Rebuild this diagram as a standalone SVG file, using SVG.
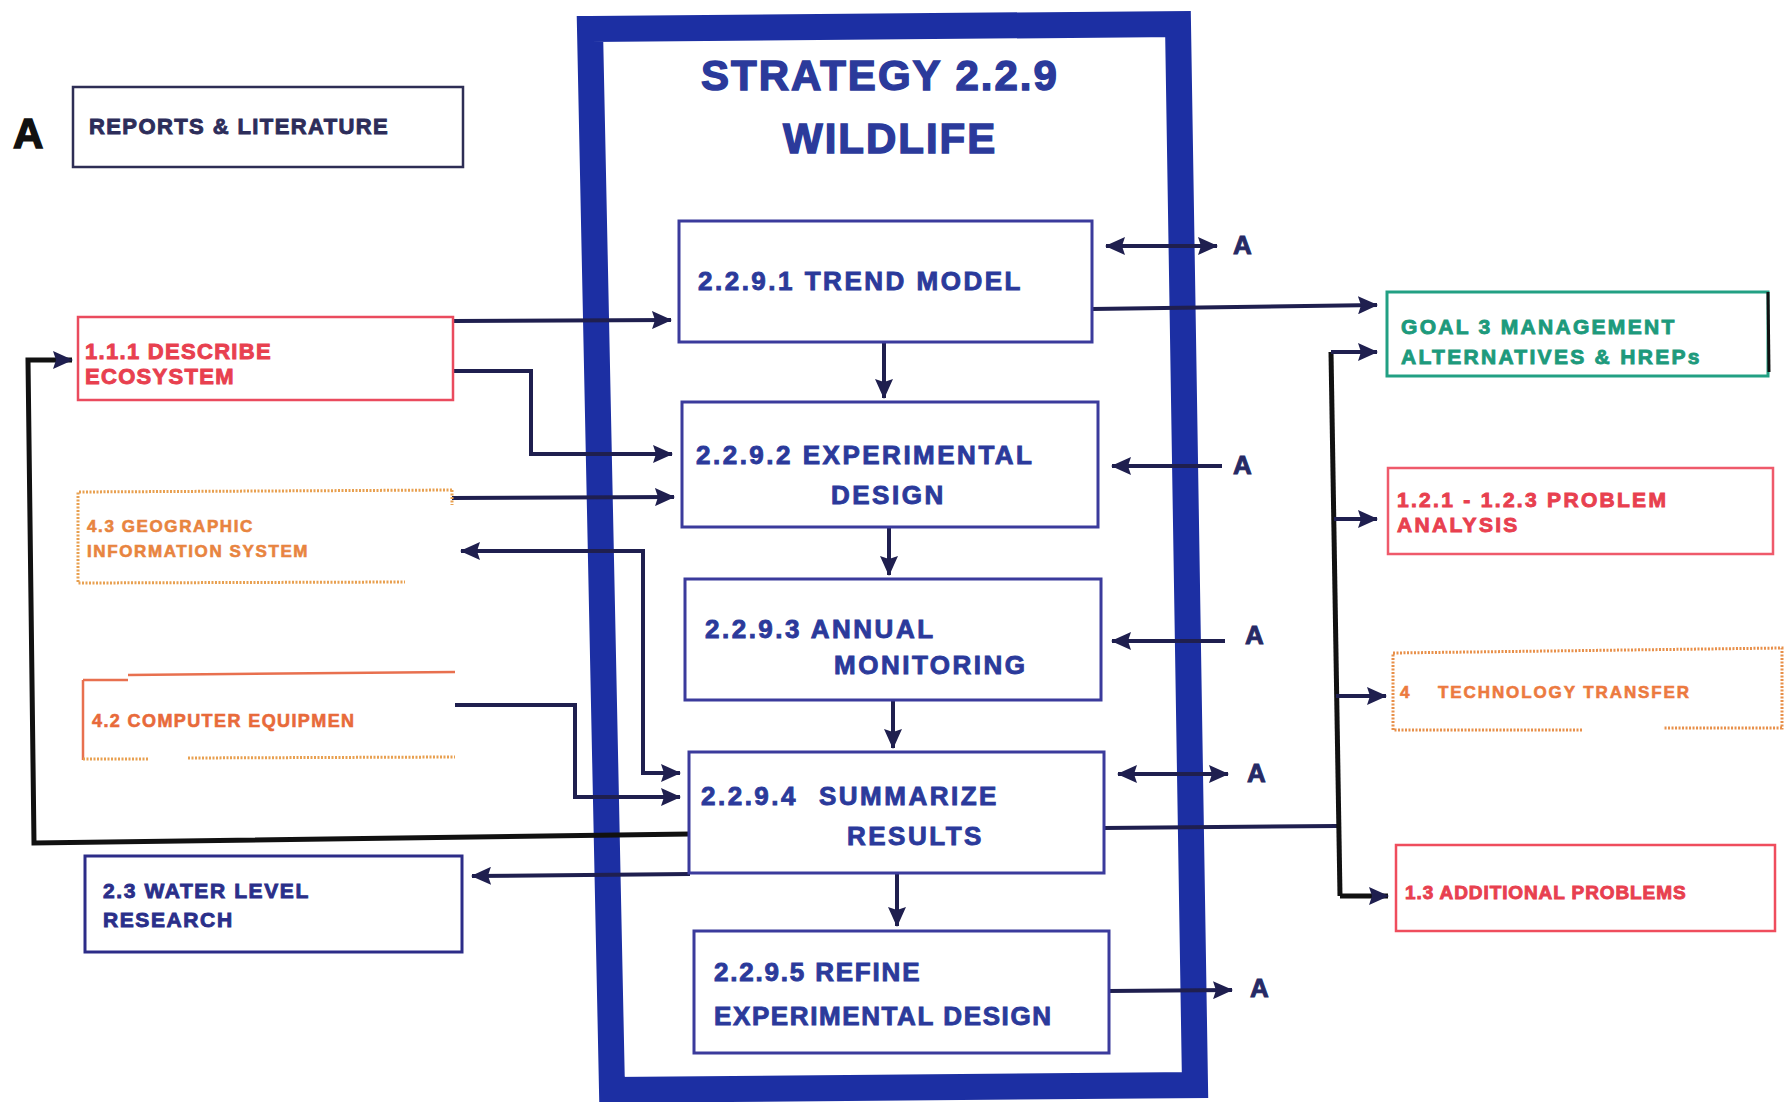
<svg xmlns="http://www.w3.org/2000/svg" width="1784" height="1102" viewBox="0 0 1784 1102">
<defs>
<marker id="ah" viewBox="0 0 20 18" refX="19" refY="9" markerWidth="20" markerHeight="18" markerUnits="userSpaceOnUse" orient="auto-start-reverse"><path d="M0,0 L20,9 L0,18 L3,9 z" fill="#1f1f4f"/></marker>
</defs>
<style>
text{font-family:"Liberation Sans",Arial,sans-serif;font-weight:bold;fill:currentColor;stroke:currentColor;stroke-width:0.9px;paint-order:stroke}
.c{color:#2b3a9b;font-size:26px;letter-spacing:2.5px}
.cb{fill:#fff;stroke:#3b3b9c;stroke-width:3}
.ln{fill:none;stroke:#1f1f4f;stroke-width:4}
.bk{fill:none;stroke:#111;stroke-width:5}
.ar{marker-end:url(#ah)}
.ar2{marker-start:url(#ah);marker-end:url(#ah)}
.A{color:#262a66;font-size:26px}
.red{color:#e8404f}
.org{color:#e8843f}
</style>
<rect width="1784" height="1102" fill="#fff"/>

<g id="frame">
<path d="M590,29 L1178,24 L1195,1085 L612,1090 Z" fill="none" stroke="#1c2fa3" stroke-width="26" stroke-linejoin="miter"/>
<text x="701" y="90" style="color:#2b3a9b;font-size:42px;letter-spacing:2px;stroke-width:1.4px">STRATEGY 2.2.9</text>
<text x="783" y="153" style="color:#2b3a9b;font-size:42px;letter-spacing:2px;stroke-width:1.4px">WILDLIFE</text>
</g>

<g id="connectors">
<path class="ln ar" d="M453,321 L671,320"/>
<path class="ln ar" d="M453,371 L531,371 L531,454 L672,454"/>
<path class="ln ar" d="M452,498 L674,497"/>
<path class="ln ar2" d="M461,551 L643,551 L643,773 L680,773"/>
<path class="ln ar" d="M455,705 L575,705 L575,797 L680,797"/>
<path class="bk ar" d="M690,834 L34,843 L28,360 L72,360"/>
<path class="ln ar" d="M690,874 L472,876"/>
<path class="ln ar" d="M884,342 L884,398"/>
<path class="ln ar" d="M889,528 L889,575"/>
<path class="ln ar" d="M893,701 L893,748"/>
<path class="ln ar" d="M897,874 L897,926"/>
<path class="ln ar2" d="M1106,246 L1217,246"/>
<path class="ln ar" d="M1092,309 L1377,305"/>
<path class="ln ar" d="M1222,466 L1112,466"/>
<path class="ln ar" d="M1225,641 L1112,641"/>
<path class="ln ar2" d="M1118,774 L1228,774"/>
<path class="ln ar" d="M1108,991 L1232,990"/>
<path class="ln" d="M1104,828 L1337,826"/>
<path class="bk" d="M1331,352 L1340,896"/>
<path class="ln ar" d="M1331,352 L1377,352"/>
<path class="ln ar" d="M1334,519 L1377,519"/>
<path class="ln ar" d="M1336,696 L1386,696"/>
<path class="bk ar" d="M1340,896 L1388,896"/>
<text class="A" x="1233" y="254">A</text>
<text class="A" x="1233" y="474">A</text>
<text class="A" x="1245" y="644">A</text>
<text class="A" x="1247" y="782">A</text>
<text class="A" x="1250" y="997">A</text>
</g>

<g id="n2291">
<rect class="cb" x="679" y="221" width="413" height="121"/>
<text class="c" x="698" y="290">2.2.9.1 TREND MODEL</text>
</g>
<g id="n2292">
<rect class="cb" x="682" y="402" width="416" height="125"/>
<text class="c" x="696" y="464">2.2.9.2 EXPERIMENTAL</text>
<text class="c" x="831" y="504">DESIGN</text>
</g>
<g id="n2293">
<rect class="cb" x="685" y="579" width="416" height="121"/>
<text class="c" x="705" y="638">2.2.9.3 ANNUAL</text>
<text class="c" x="834" y="674">MONITORING</text>
</g>
<g id="n2294">
<rect class="cb" x="689" y="752" width="415" height="121"/>
<text class="c" x="701" y="805">2.2.9.4<tspan x="819">SUMMARIZE</tspan></text>
<text class="c" x="847" y="845">RESULTS</text>
</g>
<g id="n2295">
<rect class="cb" x="694" y="931" width="415" height="122"/>
<text class="c" x="714" y="981" style="letter-spacing:1.8px">2.2.9.5 REFINE</text>
<text class="c" x="714" y="1025" style="letter-spacing:1.6px">EXPERIMENTAL DESIGN</text>
</g>

<g id="labelA">
<text x="13" y="148" style="color:#111;font-size:42px;stroke-width:1.5px">A</text>
</g>
<g id="reports">
<rect x="73" y="87" width="390" height="80" fill="#fff" stroke="#2e2e55" stroke-width="2.5"/>
<text x="89" y="134" style="color:#2d2d5a;font-size:22px;letter-spacing:1.4px">REPORTS &amp; LITERATURE</text>
</g>
<g id="n111">
<rect x="78" y="317" width="375" height="83" fill="#fff" stroke="#ea4b5e" stroke-width="2.5"/>
<text class="red" x="85" y="359" style="font-size:22px;letter-spacing:1.3px">1.1.1  DESCRIBE</text>
<text class="red" x="85" y="384" style="font-size:22px;letter-spacing:1.3px">ECOSYSTEM</text>
</g>
<g id="n43">
<path d="M452,490 L78,492 L78,583 L405,582 M452,490 L452,505" fill="none" stroke="#e8a050" stroke-width="3" stroke-dasharray="2 1.5"/>
<text class="org" x="87" y="532" style="font-size:17px;letter-spacing:1.6px;stroke-width:0.6px">4.3 GEOGRAPHIC</text>
<text class="org" x="87" y="557" style="font-size:17px;letter-spacing:1.6px;stroke-width:0.6px">INFORMATION SYSTEM</text>
</g>
<g id="n42">
<path d="M128,675 L455,672 M83,680 L128,680 M83,680 L83,760" fill="none" stroke="#e8704f" stroke-width="2.5"/>
<path d="M83,759 L148,759 M188,758 L455,757" fill="none" stroke="#e8a050" stroke-width="3" stroke-dasharray="2 1.5"/>
<text x="92" y="727" style="color:#e86a3a;font-size:18px;letter-spacing:1.4px;stroke-width:0.6px">4.2 COMPUTER EQUIPMEN</text>
</g>
<g id="n23">
<rect x="85" y="856" width="377" height="96" fill="#fff" stroke="#2c2c88" stroke-width="3"/>
<text x="103" y="898" style="color:#2a2f8a;font-size:21px;letter-spacing:1.6px">2.3  WATER  LEVEL</text>
<text x="103" y="927" style="color:#2a2f8a;font-size:21px;letter-spacing:1.6px">RESEARCH</text>
</g>
<g id="goal3">
<rect x="1387" y="292" width="381" height="84" fill="#fff" stroke="#22a083" stroke-width="3"/>
<path d="M1768,292 L1769,372" stroke="#111" stroke-width="3"/>
<text x="1401" y="334" style="color:#1d9a7c;font-size:21px;letter-spacing:2.3px">GOAL 3 MANAGEMENT</text>
<text x="1401" y="364" style="color:#1d9a7c;font-size:21px;letter-spacing:2.3px">ALTERNATIVES &amp; HREPs</text>
</g>
<g id="n121">
<rect x="1388" y="468" width="385" height="86" fill="#fff" stroke="#ef5a6b" stroke-width="2.5"/>
<text class="red" x="1397" y="507" style="font-size:21px;letter-spacing:2.3px">1.2.1 - 1.2.3 PROBLEM</text>
<text class="red" x="1397" y="532" style="font-size:21px;letter-spacing:2.3px">ANALYSIS</text>
</g>
<g id="n4">
<path d="M1393,653 L1782,648 L1782,728 L1663,728 M1582,730 L1393,730 L1393,653" fill="none" stroke="#e8904a" stroke-width="3" stroke-dasharray="2 1.5"/>
<text x="1400" y="698" style="color:#ec7a3f;font-size:17px;stroke-width:0.6px">4</text>
<text x="1438" y="698" style="color:#ec7a3f;font-size:17px;letter-spacing:1.9px;stroke-width:0.6px">TECHNOLOGY TRANSFER</text>
</g>
<g id="n13">
<rect x="1396" y="845" width="379" height="86" fill="#fff" stroke="#ef4d5d" stroke-width="2.5"/>
<text class="red" x="1405" y="899" style="font-size:19px;letter-spacing:0.9px">1.3 ADDITIONAL PROBLEMS</text>
</g>
</svg>
